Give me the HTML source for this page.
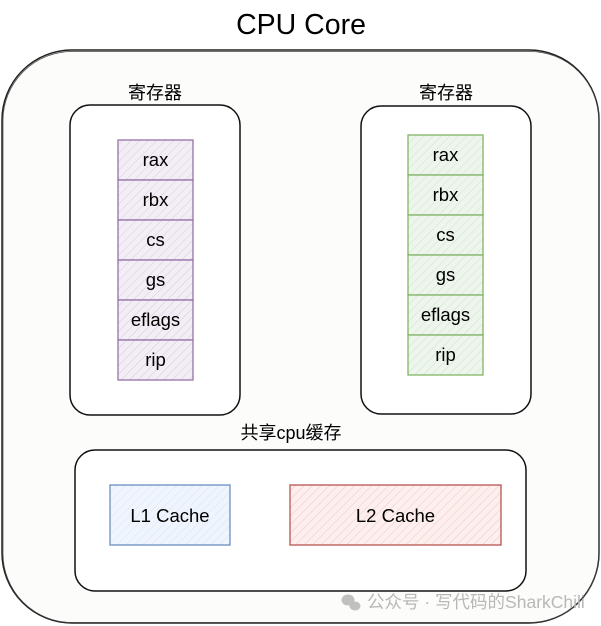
<!DOCTYPE html>
<html><head><meta charset="utf-8"><style>
html,body{margin:0;padding:0;background:#fff;}
svg{display:block;}
text{font-family:"Liberation Sans","Noto Sans CJK SC",sans-serif;fill:#000;}
</style></head><body>
<svg width="601" height="626" viewBox="0 0 601 626" xmlns="http://www.w3.org/2000/svg">
<defs>
<pattern id="hp" width="6" height="6" patternUnits="userSpaceOnUse" patternTransform="rotate(45)">
<rect width="6" height="6" fill="#f3edf5"/><line x1="0" y1="0" x2="0" y2="6" stroke="#d9cbe0" stroke-width="1"/></pattern>
<pattern id="hg" width="6" height="6" patternUnits="userSpaceOnUse" patternTransform="rotate(45)">
<rect width="6" height="6" fill="#eef5ed"/><line x1="0" y1="0" x2="0" y2="6" stroke="#cfe3cd" stroke-width="1"/></pattern>
<pattern id="hb" width="6" height="6" patternUnits="userSpaceOnUse" patternTransform="rotate(45)">
<rect width="6" height="6" fill="#f0f5fd"/><line x1="0" y1="0" x2="0" y2="6" stroke="#d3e2f8" stroke-width="1"/></pattern>
<pattern id="hr" width="6" height="6" patternUnits="userSpaceOnUse" patternTransform="rotate(45)">
<rect width="6" height="6" fill="#fcefee"/><line x1="0" y1="0" x2="0" y2="6" stroke="#f3c6c4" stroke-width="1"/></pattern>
</defs>

<text x="301" y="34" font-size="28.5" text-anchor="middle">CPU Core</text>

<!-- outer -->
<rect x="2" y="50" width="597" height="573" rx="70" ry="70" fill="#fcfcfb" stroke="#222" stroke-width="1.5"/>
<rect x="3" y="51.5" width="596" height="571" rx="69" ry="69" fill="none" stroke="#444" stroke-width="0.7"/>

<!-- left registers -->
<text x="155" y="99" font-size="18" text-anchor="middle">寄存器</text>
<rect x="70" y="105" width="170" height="310" rx="20" ry="20" fill="#fff" stroke="#111" stroke-width="1.5"/>
<g stroke="#9673a6" stroke-width="1.3" fill="url(#hp)">
<rect x="118" y="140" width="75" height="40"/>
<rect x="118" y="180" width="75" height="40"/>
<rect x="118" y="220" width="75" height="40"/>
<rect x="118" y="260" width="75" height="40"/>
<rect x="118" y="300" width="75" height="40"/>
<rect x="118" y="340" width="75" height="40"/>
</g>
<g font-size="18.5" text-anchor="middle">
<text x="155.5" y="166">rax</text>
<text x="155.5" y="206">rbx</text>
<text x="155.5" y="246">cs</text>
<text x="155.5" y="286">gs</text>
<text x="155.5" y="326">eflags</text>
<text x="155.5" y="366">rip</text>
</g>

<!-- right registers -->
<text x="446" y="99" font-size="18" text-anchor="middle">寄存器</text>
<rect x="361" y="106" width="170" height="308" rx="20" ry="20" fill="#fff" stroke="#111" stroke-width="1.5"/>
<g stroke="#82b366" stroke-width="1.3" fill="url(#hg)">
<rect x="408" y="135" width="75" height="40"/>
<rect x="408" y="175" width="75" height="40"/>
<rect x="408" y="215" width="75" height="40"/>
<rect x="408" y="255" width="75" height="40"/>
<rect x="408" y="295" width="75" height="40"/>
<rect x="408" y="335" width="75" height="40"/>
</g>
<g font-size="18.5" text-anchor="middle">
<text x="445.5" y="161">rax</text>
<text x="445.5" y="201">rbx</text>
<text x="445.5" y="241">cs</text>
<text x="445.5" y="281">gs</text>
<text x="445.5" y="321">eflags</text>
<text x="445.5" y="361">rip</text>
</g>

<!-- shared cache -->
<text x="291" y="439" font-size="18" text-anchor="middle">共享cpu缓存</text>
<rect x="75" y="450" width="451" height="141" rx="20" ry="20" fill="#fff" stroke="#111" stroke-width="1.5"/>
<rect x="110" y="485" width="120" height="60" fill="url(#hb)" stroke="#6c8ebf" stroke-width="1.3"/>
<text x="170" y="522" font-size="18.5" text-anchor="middle">L1 Cache</text>
<rect x="290" y="485" width="211" height="60" fill="url(#hr)" stroke="#b85450" stroke-width="1.3"/>
<text x="395.5" y="522" font-size="18.5" text-anchor="middle">L2 Cache</text>

<!-- watermark -->
<g fill="#c0c0c0">
<ellipse cx="348" cy="600" rx="6.5" ry="5.5"/>
<ellipse cx="355" cy="606" rx="5.5" ry="4.5"/>
</g>
<text x="367" y="608" font-size="17.5" style="fill:#b8b8b8">公众号 · 写代码的SharkChili</text>
</svg>
</body></html>
